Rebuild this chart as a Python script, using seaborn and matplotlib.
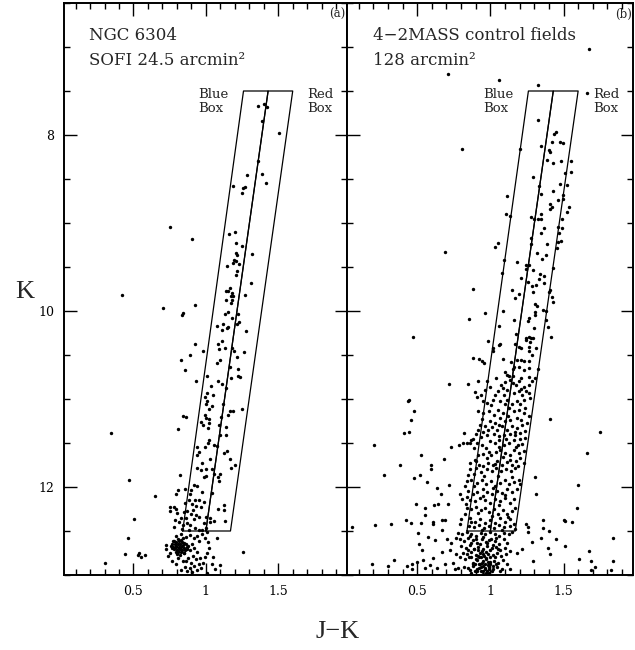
import matplotlib
matplotlib.use("Agg")
import matplotlib.pyplot as plt
import seaborn as sns
import pandas as pd
from matplotlib.ticker import MultipleLocator, FuncFormatter

# ---------------- data (J-K, K) ----------------
left_stars = [
    (1.36, 7.67), (1.405, 7.65), (1.42, 7.68), (1.386, 7.84), (1.508, 7.98), (1.359, 8.29),
    (1.285, 8.45), (1.391, 8.44), (1.416, 8.54), (1.186, 8.58), (1.271, 8.59), (1.26, 8.60),
    (1.248, 8.66), (0.75, 9.04), (0.901, 9.18), (1.161, 9.12), (1.202, 9.10), (1.209, 9.23),
    (1.253, 9.26), (1.322, 9.35), (1.207, 9.34), (1.218, 9.36), (1.195, 9.42), (1.209, 9.43),
    (1.186, 9.45), (1.23, 9.47), (1.145, 9.49), (1.218, 9.55), (1.209, 9.59), (1.315, 9.68),
    (1.168, 9.74), (1.14, 9.77), (1.152, 9.77), (1.181, 9.79), (1.172, 9.83), (1.186, 9.83),
    (1.179, 9.87), (1.138, 9.88), (1.271, 9.82), (1.177, 9.91), (0.926, 9.93), (0.701, 9.97),
    (0.839, 10.02), (0.834, 10.04), (1.15, 10.01), (1.129, 10.03), (1.225, 10.03), (1.181, 10.08),
    (1.228, 10.13), (1.216, 10.15), (1.076, 10.17), (1.115, 10.15), (1.15, 10.18), (0.42, 9.82),
    (1.113, 10.216), (1.145, 10.197), (1.276, 10.227), (0.922, 10.37), (1.085, 10.374),
    (1.113, 10.337), (1.129, 10.42), (1.089, 10.43), (1.179, 10.42), (1.193, 10.457),
    (1.262, 10.47), (0.979, 10.45), (0.887, 10.495), (0.828, 10.56), (1.097, 10.56),
    (1.076, 10.59), (1.166, 10.635), (1.218, 10.52), (1.223, 10.654), (0.855, 10.67),
    (1.005, 10.737), (1.221, 10.737), (1.239, 10.752), (1.175, 10.76), (0.931, 10.79),
    (1.083, 10.79), (1.113, 10.835), (1.037, 10.857), (1.136, 10.877), (1.005, 10.937),
    (1.046, 10.956), (0.991, 10.975), (1.011, 11.02), (1.002, 11.058), (1.041, 11.08),
    (1.021, 11.118), (1.115, 11.06), (1.168, 11.133), (1.189, 11.133), (1.248, 11.118),
    (1.156, 11.178), (1.108, 11.2), (0.839, 11.19), (0.862, 11.209), (0.991, 11.182),
    (0.998, 11.216), (1.025, 11.224), (0.966, 11.265), (0.977, 11.292), (1.025, 11.277),
    (1.094, 11.292), (1.136, 11.314), (1.016, 11.33), (0.809, 11.34), (0.343, 11.386),
    (1.097, 11.41), (1.136, 11.41), (1.023, 11.465), (1.014, 11.495), (0.94, 11.545),
    (0.995, 11.548), (1.055, 11.526), (1.076, 11.533), (0.936, 11.635), (0.952, 11.605),
    (0.975, 11.722), (1.028, 11.68), (1.122, 11.609), (1.147, 11.59), (1.168, 11.684),
    (1.202, 11.752), (1.175, 11.783), (0.94, 11.78), (0.966, 11.81), (1.0, 11.801),
    (1.041, 11.797), (1.055, 11.847), (1.0, 11.877), (0.989, 11.888), (1.085, 11.888),
    (1.101, 11.847), (1.092, 11.933), (0.821, 11.858), (0.467, 11.918), (0.915, 11.979),
    (0.938, 11.99), (0.897, 12.032), (0.853, 12.024), (0.887, 12.077), (0.807, 12.032),
    (0.793, 12.085), (0.646, 12.1), (0.975, 12.062), (1.044, 12.073), (1.126, 12.266),
    (1.126, 12.209), (1.133, 12.386), (1.083, 12.247), (1.078, 12.579), (1.257, 12.734),
    (1.03, 12.401), (1.057, 12.383), (1.028, 12.353), (0.998, 12.341), (0.984, 12.409),
    (0.954, 12.145), (0.924, 12.152), (0.883, 12.149), (0.857, 12.183), (0.906, 12.198),
    (0.929, 12.22), (0.963, 12.228), (0.986, 12.168), (0.749, 12.224), (0.777, 12.224),
    (0.795, 12.254), (0.754, 12.277), (0.802, 12.292), (0.846, 12.288), (0.871, 12.273),
    (0.91, 12.266), (0.894, 12.303), (0.933, 12.318), (0.952, 12.341), (0.92, 12.36),
    (0.864, 12.356), (0.825, 12.356), (0.79, 12.371), (0.811, 12.398), (0.867, 12.405),
    (0.89, 12.432), (0.839, 12.428), (0.782, 12.458), (0.926, 12.462), (0.952, 12.485),
    (0.975, 12.485), (1.002, 12.47), (0.834, 12.477), (0.883, 12.488), (0.506, 12.36),
    (0.462, 12.575), (0.444, 12.756), (0.306, 12.866), (0.54, 12.753), (0.554, 12.79),
    (0.531, 12.775), (0.579, 12.772),
    (0.726, 12.662), (0.722, 12.707), (0.736, 12.783), (0.749, 12.753), (0.77, 12.609),
    (0.795, 12.556), (0.828, 12.537), (0.86, 12.567), (0.887, 12.545), (0.917, 12.583),
    (0.938, 12.553), (0.952, 12.613), (0.975, 12.537), (0.991, 12.583), (1.009, 12.507),
    (0.901, 12.643), (0.917, 12.688), (0.89, 12.719), (0.936, 12.741), (0.91, 12.779),
    (0.878, 12.802), (0.864, 12.84), (0.894, 12.858), (0.929, 12.821), (0.952, 12.87),
    (0.915, 12.9), (0.887, 12.923), (0.855, 12.908), (0.825, 12.945), (0.871, 12.96),
    (0.906, 12.97), (0.936, 12.945), (0.966, 12.923), (0.979, 12.858), (0.991, 12.794),
    (1.011, 12.749), (1.025, 12.688), (1.016, 12.624), (1.048, 12.794), (1.039, 12.87),
    (1.099, 12.885), (1.062, 12.93), (1.007, 12.975), (0.959, 12.802), (0.848, 12.749),
    (0.841, 12.84), (0.795, 12.87), (0.809, 12.802), (0.768, 12.84),
    (0.779, 12.613), (0.795, 12.621), (0.814, 12.613), (0.832, 12.624), (0.848, 12.632),
    (0.768, 12.651), (0.786, 12.651), (0.805, 12.651), (0.823, 12.651), (0.841, 12.658),
    (0.86, 12.651), (0.775, 12.681), (0.793, 12.681), (0.811, 12.681), (0.83, 12.681),
    (0.848, 12.689), (0.867, 12.681), (0.782, 12.707), (0.8, 12.711), (0.818, 12.707),
    (0.837, 12.715), (0.855, 12.719), (0.791, 12.738), (0.809, 12.738), (0.828, 12.741),
    (0.846, 12.749), (0.802, 12.764), (0.821, 12.771), (0.768, 12.696), (0.759, 12.67),
    (0.871, 12.707), (0.878, 12.67), (0.825, 12.598), (0.805, 12.587), (0.841, 12.583),
    (0.797, 12.665), (0.815, 12.695), (0.833, 12.668), (0.81, 12.725), (0.785, 12.69),
]

right_stars = [
    (1.676, 7.019), (0.708, 7.309), (1.06, 7.37), (1.329, 7.434), (1.66, 7.528), (1.324, 7.834),
    (1.448, 7.97), (1.437, 7.985), (0.809, 8.159), (1.2, 8.159), (1.343, 8.121), (1.418, 8.083),
    (1.476, 8.076), (1.499, 8.091), (1.398, 8.166), (1.405, 8.189), (1.384, 8.287), (1.425, 8.321),
    (1.485, 8.291), (1.554, 8.298), (1.513, 8.431), (1.549, 8.423), (1.292, 8.48), (1.331, 8.582),
    (1.476, 8.555), (1.522, 8.566), (1.113, 8.691), (1.345, 8.668), (1.428, 8.642), (1.497, 8.687),
    (1.136, 8.921), (1.108, 8.895), (1.411, 8.781), (1.423, 8.819), (1.405, 8.838), (1.464, 8.744),
    (1.494, 8.732), (1.54, 8.819), (1.522, 8.876), (1.28, 8.932), (1.301, 8.951), (1.324, 8.951),
    (1.349, 8.951), (1.343, 8.895), (1.487, 8.959), (1.368, 9.057), (1.464, 9.046), (1.487, 9.053),
    (1.469, 9.11), (1.349, 9.117), (1.278, 9.17), (1.46, 9.215), (1.485, 9.208), (1.388, 9.242),
    (1.278, 9.234), (1.455, 9.283), (1.051, 9.223), (1.03, 9.268), (0.69, 9.332), (1.32, 9.336),
    (1.377, 9.366), (1.354, 9.412), (1.094, 9.416), (1.184, 9.446), (1.244, 9.472), (1.264, 9.472),
    (1.425, 9.506), (1.246, 9.525), (1.292, 9.536), (1.37, 9.597), (1.078, 9.567), (1.209, 9.623),
    (1.338, 9.585), (1.255, 9.669), (1.312, 9.699), (1.335, 9.642), (1.37, 9.68), (1.283, 9.718),
    (1.407, 9.763), (1.292, 9.782), (1.398, 9.789), (0.88, 9.755), (1.147, 9.759), (1.193, 9.804),
    (1.17, 9.85), (1.419, 9.838), (1.425, 9.895), (1.303, 9.921), (1.317, 9.94), (1.087, 9.997),
    (0.961, 10.027), (1.361, 9.986), (1.382, 9.997), (1.303, 10.016), (1.303, 10.046),
    (1.267, 10.084), (1.255, 10.114), (1.377, 10.099), (0.855, 10.091), (1.161, 10.103),
    (1.06, 10.167), (1.297, 10.19), (1.391, 10.178), (1.177, 10.261), (1.244, 10.303),
    (1.264, 10.292), (1.28, 10.303), (1.294, 10.303), (1.244, 10.329), (1.274, 10.348),
    (1.416, 10.292), (0.471, 10.299), (0.982, 10.344), (1.067, 10.374), (1.06, 10.386),
    (1.17, 10.378), (1.193, 10.408), (1.207, 10.416), (1.267, 10.408), (1.31, 10.416),
    (1.016, 10.416), (1.016, 10.45), (1.264, 10.454), (1.287, 10.503), (0.88, 10.529),
    (0.924, 10.548), (0.943, 10.563), (0.956, 10.593), (1.085, 10.544), (1.179, 10.559),
    (1.209, 10.556), (1.23, 10.567), (1.143, 10.575), (1.264, 10.563), (1.161, 10.642),
    (1.101, 10.688), (1.117, 10.725), (1.154, 10.654), (1.198, 10.635), (1.228, 10.669),
    (1.264, 10.65), (1.329, 10.658), (1.126, 10.744), (1.154, 10.744), (1.207, 10.756),
    (1.267, 10.748), (1.041, 10.756),
    # outer field stars, fainter part
    (0.72, 10.827), (0.848, 10.824), (0.917, 10.793), (0.975, 10.79), (0.437, 11.028),
    (0.444, 11.009), (0.476, 11.133), (0.457, 11.235), (0.407, 11.39), (0.446, 11.379),
    (0.207, 11.526), (0.524, 11.631), (0.379, 11.745), (0.274, 11.862), (0.478, 11.9),
    (0.522, 11.866), (0.595, 11.745), (0.591, 11.801), (0.566, 11.945), (0.632, 12.013),
    (0.662, 12.077), (0.717, 11.979), (0.733, 11.548), (0.685, 11.677), (0.821, 11.386),
    (0.786, 11.518), (0.811, 11.503), (0.841, 11.496), (0.864, 11.5), (0.883, 11.454),
    (1.407, 11.228), (1.752, 11.375), (1.66, 11.616), (1.306, 11.888), (1.31, 12.084),
    (1.602, 11.979), (1.595, 12.236), (0.051, 12.451), (0.209, 12.428), (0.32, 12.417),
    (0.421, 12.375), (0.455, 12.405), (0.529, 12.405), (0.607, 12.398), (0.671, 12.379),
    (0.69, 12.379), (0.492, 12.198), (0.552, 12.236), (0.614, 12.205), (0.641, 12.19),
    (0.71, 12.198), (0.554, 12.319), (0.609, 12.424), (0.506, 12.519), (0.513, 12.651),
    (0.531, 12.719), (0.575, 12.568), (0.623, 12.605), (0.671, 12.488), (0.701, 12.594),
    (0.667, 12.734), (0.609, 12.809), (0.584, 12.885), (0.54, 12.832), (0.499, 12.847),
    (0.462, 12.87), (0.428, 12.896), (0.343, 12.832), (0.297, 12.896), (0.193, 12.877),
    (0.462, 12.934), (0.554, 12.926), (0.635, 12.922), (0.692, 12.877), (0.726, 12.719),
    (0.733, 12.636), (0.763, 12.575), (1.246, 12.424), (1.259, 12.454), (1.257, 12.515),
    (1.285, 12.62), (1.361, 12.375), (1.361, 12.462), (1.343, 12.575), (1.4, 12.5),
    (1.451, 12.594), (1.503, 12.375), (1.508, 12.386), (1.561, 12.398), (1.508, 12.67),
    (1.393, 12.689), (1.407, 12.757), (1.609, 12.813), (1.674, 12.726), (1.687, 12.839),
    (1.715, 12.907), (1.837, 12.583), (1.837, 12.839), (1.825, 12.941), (1.687, 12.941),
    (1.29, 12.839), (1.214, 12.707), (1.182, 12.745), (1.131, 12.934),
    # giant branch band, K 10.8 - 12.5
    (0.894, 10.922), (0.908, 10.982), (0.963, 10.895), (0.998, 10.858), (1.032, 10.952),
    (1.055, 10.914), (1.071, 10.839), (1.101, 10.809), (1.113, 10.895), (1.117, 11.009),
    (1.154, 10.82), (1.177, 10.839), (1.193, 10.801), (1.209, 10.884), (1.23, 10.869),
    (1.262, 10.839), (1.246, 10.907), (1.285, 10.801), (1.308, 10.763), (1.136, 10.782),
    (1.159, 10.933), (1.09, 10.952), (1.067, 11.02), (1.021, 11.009), (0.947, 11.02),
    (0.975, 11.046), (1.228, 11.009), (1.274, 10.99), (1.216, 10.952), (1.182, 11.027),
    (1.145, 11.058), (1.099, 11.058),
    (0.917, 11.133), (0.952, 11.16), (0.993, 11.141), (1.025, 11.178), (1.055, 11.122),
    (1.085, 11.16), (1.124, 11.103), (1.159, 11.141), (1.193, 11.122), (1.239, 11.103),
    (1.228, 11.16), (1.262, 11.197), (1.182, 11.216), (1.136, 11.235), (1.101, 11.254),
    (1.067, 11.216), (1.032, 11.273), (0.998, 11.254), (0.963, 11.311), (0.929, 11.292),
    (0.986, 11.348), (1.009, 11.322), (1.044, 11.348), (1.078, 11.311), (1.113, 11.348),
    (1.147, 11.311), (1.182, 11.33), (1.216, 11.292), (1.251, 11.273), (1.2, 11.386),
    (1.17, 11.405), (1.136, 11.397), (1.094, 11.405), (1.062, 11.424), (1.025, 11.397),
    (0.975, 11.405), (0.947, 11.375), (0.917, 11.348), (0.901, 11.397), (1.239, 11.36),
    (0.871, 11.462), (0.906, 11.499), (0.94, 11.526), (0.97, 11.556), (0.998, 11.481),
    (1.032, 11.499), (1.062, 11.462), (1.09, 11.518), (1.124, 11.499), (1.159, 11.462),
    (1.186, 11.526), (1.216, 11.511), (1.239, 11.443), (1.228, 11.594), (1.193, 11.613),
    (1.159, 11.575), (1.131, 11.639), (1.101, 11.613), (1.067, 11.575), (1.039, 11.601),
    (1.005, 11.639), (0.975, 11.669), (0.947, 11.624), (0.917, 11.639), (0.894, 11.688),
    (0.864, 11.726), (0.924, 11.745), (0.952, 11.764), (0.986, 11.726), (1.016, 11.745),
    (1.048, 11.707), (1.078, 11.745), (1.113, 11.715), (1.147, 11.745), (1.177, 11.699),
    (1.205, 11.669), (1.17, 11.783), (1.14, 11.82), (1.108, 11.801), (1.071, 11.82),
    (1.039, 11.783), (1.009, 11.82), (0.975, 11.801), (0.933, 11.828), (0.901, 11.783),
    (0.887, 11.85), (0.848, 11.866), (1.228, 11.726),
    (0.841, 11.934), (0.871, 11.915), (0.906, 11.952), (0.94, 11.926), (0.97, 11.971),
    (1.002, 11.934), (1.032, 11.99), (1.067, 11.952), (1.097, 11.915), (1.129, 11.971),
    (1.163, 11.941), (1.193, 11.915), (1.182, 12.028), (1.147, 12.054), (1.113, 12.028),
    (1.078, 12.066), (1.044, 12.047), (1.009, 12.084), (0.975, 12.054), (0.947, 12.028),
    (0.91, 12.054), (0.878, 12.084), (0.848, 12.047), (0.825, 11.99), (0.86, 12.152),
    (0.894, 12.16), (0.929, 12.13), (0.963, 12.152), (0.998, 12.179), (1.032, 12.141),
    (1.067, 12.16), (1.101, 12.13), (1.136, 12.179), (1.163, 12.141), (1.2, 11.964),
    (0.791, 12.084), (0.809, 12.141), (0.832, 12.198),
    (0.841, 12.236), (0.871, 12.254), (0.901, 12.228), (0.933, 12.266), (0.963, 12.236),
    (0.993, 12.281), (1.025, 12.254), (1.055, 12.303), (1.085, 12.266), (1.117, 12.311),
    (1.147, 12.273), (1.17, 12.236), (1.136, 12.368), (1.101, 12.394), (1.067, 12.356),
    (1.032, 12.405), (0.998, 12.379), (0.963, 12.405), (0.929, 12.368), (0.894, 12.394),
    (0.86, 12.349), (0.825, 12.311), (0.802, 12.368), (0.791, 12.424), (0.855, 12.443),
    (0.887, 12.454), (0.924, 12.432), (0.956, 12.462), (0.993, 12.443), (1.025, 12.462),
    (1.062, 12.432), (1.094, 12.454), (1.131, 12.443), (1.163, 12.417),
    # extra band members between the ones above
    (0.935, 10.955), (1.085, 10.875), (1.195, 10.91), (1.265, 10.93), (1.005, 11.07),
    (1.205, 11.06), (1.12, 11.19), (0.945, 11.23), (1.21, 11.24), (1.06, 11.30),
    (1.165, 11.37), (0.935, 11.43), (1.11, 11.45), (1.20, 11.46), (0.885, 11.56),
    (1.06, 11.54), (1.175, 11.55), (0.99, 11.60), (1.085, 11.66), (0.905, 11.71),
    (1.135, 11.69), (1.03, 11.74), (1.19, 11.76), (0.86, 11.80), (1.055, 11.87),
    (0.955, 11.88), (1.15, 11.89), (0.89, 11.99), (1.02, 12.01), (1.10, 12.09),
    (0.95, 12.10), (0.84, 12.11), (1.06, 12.21), (0.915, 12.30), (1.01, 12.33),
    (1.12, 12.34), (0.87, 12.40), (0.945, 12.49), (1.08, 12.49), (1.17, 12.48),
    # faint dense clump below the boxes
    (0.779, 12.519), (0.809, 12.537), (0.841, 12.507), (0.871, 12.53), (0.901, 12.556),
    (0.933, 12.519), (0.963, 12.537), (0.998, 12.507), (1.032, 12.53), (1.062, 12.556),
    (1.094, 12.519), (1.124, 12.537), (1.147, 12.507),
    (0.791, 12.594), (0.818, 12.613), (0.848, 12.583), (0.878, 12.605), (0.91, 12.632),
    (0.94, 12.594), (0.97, 12.62), (1.002, 12.594), (1.032, 12.613), (1.062, 12.643),
    (1.09, 12.594), (1.117, 12.632),
    (0.802, 12.67), (0.832, 12.689), (0.86, 12.658), (0.887, 12.707), (0.917, 12.681),
    (0.947, 12.707), (0.975, 12.67), (1.009, 12.696), (1.039, 12.681), (1.067, 12.719),
    (1.101, 12.689), (1.131, 12.726),
    (0.814, 12.745), (0.841, 12.764), (0.871, 12.734), (0.901, 12.771), (0.929, 12.745),
    (0.956, 12.783), (0.986, 12.756), (1.016, 12.771), (1.044, 12.745), (1.076, 12.783),
    (1.108, 12.764),
    (0.795, 12.801), (0.825, 12.82), (0.855, 12.79), (0.883, 12.858), (0.91, 12.832),
    (0.94, 12.858), (0.97, 12.82), (0.998, 12.87), (1.025, 12.839), (1.055, 12.858),
    (1.085, 12.832), (1.113, 12.877),
    (0.818, 12.907), (0.848, 12.922), (0.878, 12.896), (0.906, 12.934), (0.933, 12.907),
    (0.963, 12.934), (0.993, 12.907), (1.021, 12.934), (1.048, 12.907), (1.078, 12.934),
    (0.894, 12.96), (0.947, 12.96), (0.979, 12.96), (1.009, 12.96), (0.924, 12.877),
    (0.952, 12.896), (0.986, 12.885), (0.867, 12.972), (1.067, 12.96), (0.779, 12.915),
    (0.756, 12.934), (0.745, 12.858), (0.768, 12.764),
    (0.913, 12.719), (0.936, 12.801), (0.97, 12.734), (0.901, 12.82), (0.982, 12.847),
    (0.947, 12.764), (0.924, 12.915), (0.963, 12.877), (0.998, 12.801), (0.894, 12.877),
    (0.933, 12.953), (0.97, 12.972), (0.993, 12.934), (1.016, 12.896), (0.952, 12.839),
    (0.917, 12.783),
    (0.86, 12.56), (0.90, 12.59), (0.95, 12.57), (0.99, 12.60), (1.04, 12.58),
    (0.87, 12.64), (0.93, 12.65), (0.98, 12.64), (1.02, 12.66), (0.85, 12.72),
    (0.89, 12.70), (0.94, 12.73), (1.00, 12.72), (1.05, 12.71), (0.87, 12.79),
    (0.92, 12.80), (0.97, 12.81), (1.03, 12.80), (0.88, 12.87), (0.93, 12.88),
    (0.96, 12.92), (1.00, 12.85), (1.04, 12.88), (0.91, 12.95), (0.95, 12.99),
    (0.99, 12.98), (0.86, 12.94),
]

# selection boxes (J-K, K corners)
blue_box_jk = [0.84, 1.00, 1.43, 1.26, 0.84]
red_box_jk = [1.00, 1.17, 1.60, 1.43, 1.00]
box_k = [12.5, 12.5, 7.5, 7.5, 12.5]

panel_titles = [["NGC 6304", "SOFI 24.5 arcmin\u00b2"],
                ["4\u22122MASS control fields", "128 arcmin\u00b2"]]
panel_tags = ["(a)", "(b)"]

# ---------------- figure ----------------
sns.set_theme(style="ticks")
plt.rcParams["font.family"] = ["DejaVu Serif"]

W, H = 635, 650
fig = plt.figure(figsize=(W / 100, H / 100), dpi=100)
bottom = 1 - 575 / H
height = 572 / H
ax1 = fig.add_axes([64 / W, bottom, 283 / W, height])
ax2 = fig.add_axes([347 / W, bottom, 286 / W, height])

dfs = [pd.DataFrame(left_stars, columns=["JK", "K"]),
       pd.DataFrame(right_stars, columns=["JK", "K"])]

for i, (ax, df) in enumerate(zip([ax1, ax2], dfs)):
    sns.scatterplot(data=df, x="JK", y="K", ax=ax, color="black", s=6,
                    linewidth=0, marker="o", legend=False)
    ax.plot(blue_box_jk, box_k, color="black", lw=0.9)
    ax.plot(red_box_jk, box_k, color="black", lw=0.9)
    ax.set_xlim(0.02, 1.975)
    ax.set_ylim(13.0, 6.5)
    ax.set_xlabel("")
    ax.set_ylabel("")
    ax.xaxis.set_major_locator(MultipleLocator(0.5))
    ax.xaxis.set_minor_locator(MultipleLocator(0.1))
    ax.yaxis.set_major_locator(MultipleLocator(2))
    ax.yaxis.set_minor_locator(MultipleLocator(0.5))
    ax.xaxis.set_major_formatter(FuncFormatter(lambda v, p: f"{v:g}"))
    ax.yaxis.set_major_formatter(FuncFormatter(lambda v, p: f"{v:g}"))
    ax.tick_params(which="both", direction="in", top=True, right=True,
                   labelsize=9, width=1.0, colors="black")
    ax.tick_params(which="major", length=9, pad=7)
    ax.tick_params(which="minor", length=4.5)
    for sp in ax.spines.values():
        sp.set_visible(True)
        sp.set_linewidth(1.4)
        sp.set_color("black")
    ax.text(0.09, 0.958, panel_titles[i][0], transform=ax.transAxes,
            fontsize=12, va="top", ha="left")
    ax.text(0.09, 0.915, panel_titles[i][1], transform=ax.transAxes,
            fontsize=12, va="top", ha="left")
    ax.text(0.995, 0.992, panel_tags[i], transform=ax.transAxes,
            fontsize=8.5, va="top", ha="right")
    ax.text(0.475, 0.852, "Blue\nBox", transform=ax.transAxes,
            fontsize=9.5, va="top", ha="left", linespacing=1.15)
    ax.text(0.86, 0.852, "Red\nBox", transform=ax.transAxes,
            fontsize=9.5, va="top", ha="left", linespacing=1.15)
    for lab in ax.get_xticklabels() + ax.get_yticklabels():
        lab.set_family("DejaVu Serif")

ax2.tick_params(labelleft=False)

fig.text(25 / W, 1 - 292 / H, "K", fontsize=19, family="Liberation Serif",
         ha="center", va="center")
fig.text(338 / W, 1 - 632 / H, "J\u2212K", fontsize=19, family="Liberation Serif",
         ha="center", va="center")

fig.savefig("out.png", dpi=100)
